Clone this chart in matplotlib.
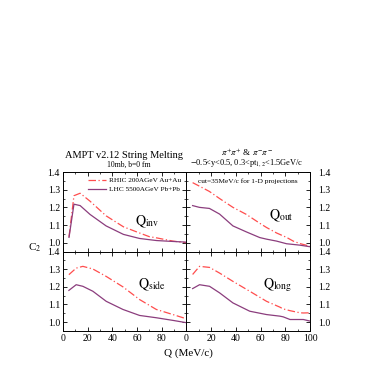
import matplotlib
matplotlib.use("Agg")
import matplotlib.pyplot as plt
from matplotlib.ticker import MultipleLocator, FormatStrFormatter

plt.rcParams["font.family"] = "Liberation Serif"
plt.rcParams["mathtext.fontset"] = "stix"

RHIC_COLOR = "#ff4d4d"
LHC_COLOR = "#8b3d7d"

# Q (MeV/c) and C2 values, one pair of arrays per projection
q_inv = [5, 9, 14, 22, 35, 49, 62, 70, 76, 89, 100]
rhic_inv = [1.033, 1.266, 1.28, 1.235, 1.152, 1.09, 1.055, 1.034, 1.027, 1.009, 1.0]
lhc_inv = [1.03, 1.218, 1.21, 1.16, 1.095, 1.047, 1.024, 1.017, 1.012, 1.007, 1.003]

q_out = [5, 10.5, 18.6, 26.8, 37.6, 48.5, 59.3, 64.8, 72.9, 81, 86.4, 91.8, 100]
rhic_out = [1.34, 1.32, 1.29, 1.25, 1.2, 1.16, 1.11, 1.086, 1.055, 1.03, 1.009, 0.995, 0.98]
lhc_out = [1.21, 1.2, 1.194, 1.162, 1.095, 1.061, 1.029, 1.02, 1.009, 0.994, 0.99, 0.986, 0.977]

q_side = [4.9, 10.8, 16.2, 24.3, 35.1, 48.6, 62.1, 75.6, 89.1, 100]
rhic_side = [1.269, 1.306, 1.316, 1.301, 1.259, 1.2, 1.128, 1.072, 1.043, 1.019]
lhc_side = [1.18, 1.212, 1.203, 1.175, 1.118, 1.072, 1.038, 1.025, 1.01, 0.997]

q_long = [5, 10.6, 18.7, 26.8, 37.6, 51.2, 64.8, 75.6, 78.3, 83.8, 91.9, 94.6, 100]
rhic_long = [1.27, 1.316, 1.31, 1.278, 1.231, 1.175, 1.118, 1.085, 1.075, 1.065, 1.053, 1.052, 1.053]
lhc_long = [1.19, 1.212, 1.203, 1.166, 1.109, 1.062, 1.043, 1.034, 1.03, 1.015, 1.015, 1.015, 1.006]

panels = [
    (q_inv, rhic_inv, lhc_inv, r"$\mathrm{Q}_{\mathrm{inv}}$", (68, 1.12)),
    (q_out, rhic_out, lhc_out, r"$\mathrm{Q}_{\mathrm{out}}$", (77, 1.15)),
    (q_side, rhic_side, lhc_side, r"$\mathrm{Q}_{\mathrm{side}}$", (72, 1.21)),
    (q_long, rhic_long, lhc_long, r"$\mathrm{Q}_{\mathrm{long}}$", (74, 1.21)),
]

fig, axes = plt.subplots(2, 2, figsize=(3.74, 3.74), dpi=100)
fig.subplots_adjust(left=0.168, right=0.829, top=0.54, bottom=0.115,
                    hspace=0, wspace=0)

for i, (ax, (q, rhic, lhc, label, pos)) in enumerate(zip(axes.flat, panels)):
    ax.plot(q, rhic, color=RHIC_COLOR, linestyle=(0, (6, 2, 1, 2)),
            linewidth=0.9, label="RHIC 200AGeV Au+Au")
    ax.plot(q, lhc, color=LHC_COLOR, linewidth=0.9,
            label="LHC 5500AGeV Pb+Pb")
    ax.text(pos[0], pos[1], label, fontsize=10, ha="center", va="center")
    ax.set_xlim(0, 100)
    ax.set_ylim(0.95, 1.4)
    ax.xaxis.set_major_locator(MultipleLocator(20))
    ax.xaxis.set_minor_locator(MultipleLocator(10))
    ax.yaxis.set_major_locator(MultipleLocator(0.1))
    ax.yaxis.set_minor_locator(MultipleLocator(0.05))
    ax.yaxis.set_major_formatter(FormatStrFormatter("%.1f"))
    ax.tick_params(which="both", direction="in", top=True, right=True,
                   labelsize=7, pad=2)
    ax.tick_params(which="major", length=3, width=0.6)
    ax.tick_params(which="minor", length=1.5, width=0.5)
    for sp in ax.spines.values():
        sp.set_linewidth(0.7)
    if i % 2 == 1:
        ax.tick_params(axis="y", labelleft=False, labelright=True, pad=6)
    if i < 2:
        ax.tick_params(axis="x", labelbottom=False)

axes[1, 0].set_xticks([0, 20, 40, 60, 80])
axes[1, 0].xaxis.set_minor_locator(MultipleLocator(10))

axes[0, 0].legend(loc="upper right", fontsize=5.2, frameon=False,
                  handlelength=2.5, handletextpad=0.5, borderaxespad=0.3,
                  labelspacing=0.45)

axes[0, 1].text(0.5, 0.88, "cut=35MeV/c for 1-D projections", fontsize=5.3,
                ha="center", va="center", transform=axes[0, 1].transAxes)

fig.text(0.332, 0.584, "AMPT v2.12 String Melting", fontsize=7.5,
         ha="center", va="center")
fig.text(0.345, 0.559, "10mb, b=0 fm", fontsize=5.5, ha="center", va="center")
fig.text(0.660, 0.594, r"$\pi^{+}\pi^{+}$ & $\pi^{-}\pi^{-}$", fontsize=6.5,
         ha="center", va="center")
fig.text(0.660, 0.563,
         r"$-$0.5<y<0.5, 0.3<pt$_{1,2}$<1.5GeV/c", fontsize=6,
         ha="center", va="center")
fig.text(0.092, 0.337, r"C$_2$", fontsize=8, ha="center", va="center")
fig.text(0.505, 0.056, "Q (MeV/c)", fontsize=8, ha="center", va="center")

fig.savefig("out.png", dpi=100)
